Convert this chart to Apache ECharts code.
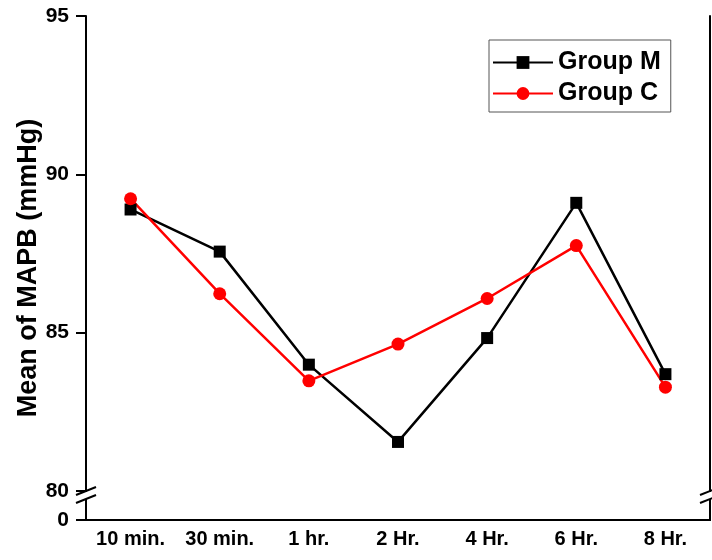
<!DOCTYPE html>
<html>
<head>
<meta charset="utf-8">
<script src="https://cdn.jsdelivr.net/npm/echarts@6/dist/echarts.min.js"></script>
<style>
  html, body { margin: 0; padding: 0; background: #fff; }
  #chart { width: 712px; height: 560px; }
</style>
</head>
<body>
<div id="chart"></div>
<script>
// Time points after induction
const categories = ['10 min.', '30 min.', '1 hr.', '2 Hr.', '4 Hr.', '6 Hr.', '8 Hr.'];
// Mean arterial pressure (mmHg) per group
const groupM = [88.89, 87.56, 83.99, 81.55, 84.83, 89.10, 83.69];
const groupC = [89.23, 86.23, 83.48, 84.64, 86.08, 87.75, 83.28];
// Visible y tick values (axis broken between 0 and 80)
const yTicks = [0, 80, 85, 90, 95];

const FONT = '"Liberation Sans", Arial, sans-serif';

const chart = echarts.init(document.getElementById('chart'));

const axisBreak = [{ start: 0, end: 80, gap: '5.75%' }];

chart.setOption({
  animation: false,
  backgroundColor: '#fff',
  grid: { left: 86, right: 2, top: 16, bottom: 40 },
  legend: {
    orient: 'vertical',
    left: 489,
    top: 40,
    width: 180,
    padding: [10, 10, 6, 3],
    itemGap: 6,
    itemWidth: 60,
    itemHeight: 16,
    borderColor: '#555',
    borderWidth: 1,
    textStyle: { fontFamily: FONT, fontWeight: 'bold', fontSize: 25, color: '#000' },
    data: ['Group M', 'Group C']
  },
  xAxis: [{
    type: 'category',
    data: categories,
    boundaryGap: true,
    axisLine: { lineStyle: { color: '#000', width: 2 } },
    axisTick: { alignWithLabel: true, interval: 0, length: 10, lineStyle: { color: '#000', width: 2 } },
    axisLabel: { interval: 0, fontFamily: FONT, fontWeight: 'bold', fontSize: 20, color: '#000', margin: 9 },
    splitLine: { show: false }
  }, {
    type: 'category',
    position: 'top',
    data: categories,
    axisLine: { lineStyle: { color: '#000', width: 2 } },
    axisTick: { show: false },
    axisLabel: { show: false }
  }],
  yAxis: [{
    type: 'value',
    min: 0,
    max: 95,
    interval: 5,
    breaks: axisBreak,
    breakArea: { show: false },
    axisLine: { show: true, lineStyle: { color: '#000', width: 2 } },
    axisTick: { show: true, length: 10, lineStyle: { color: '#000', width: 2 } },
    axisLabel: {
      fontFamily: FONT, fontWeight: 'bold', fontSize: 21, color: '#000', margin: 17,
      formatter: v => (yTicks.indexOf(v) >= 0 ? String(v) : '')
    },
    splitLine: { show: false },
    name: 'Mean of MAPB (mmHg)',
    nameLocation: 'middle',
    nameMoveOverlap: false,
    nameGap: 44,
    nameTextStyle: { fontFamily: FONT, fontWeight: 'bold', fontSize: 27, color: '#000' }
  }, {
    type: 'value',
    position: 'right',
    min: 0,
    max: 95,
    interval: 5,
    breaks: axisBreak,
    breakArea: { show: false },
    axisLine: { show: true, lineStyle: { color: '#000', width: 2 } },
    axisTick: { show: false },
    axisLabel: { show: false },
    splitLine: { show: false }
  }],
  series: [{
    name: 'Group M',
    type: 'line',
    data: groupM,
    symbol: 'rect',
    symbolSize: 12,
    itemStyle: { color: '#000' },
    lineStyle: { color: '#000', width: 2.5 }
  }, {
    name: 'Group C',
    type: 'line',
    data: groupC,
    symbol: 'circle',
    symbolSize: 13,
    itemStyle: { color: '#ff0000' },
    lineStyle: { color: '#ff0000', width: 2.5 }
  }]
});

// Axis segments through the break gap, plus double-slash break markers
function drawBreakMarks() {
  const yTop = chart.convertToPixel({ yAxisIndex: 0 }, 80);
  const yBot = chart.convertToPixel({ yAxisIndex: 0 }, 0);
  const left = 86, right = 710;
  const els = [];
  [left, right].forEach(x => {
    els.push({
      type: 'line', shape: { x1: x, y1: yTop, x2: x, y2: yBot + 1 },
      style: { stroke: '#000', lineWidth: 2 }, z: 199
    });
    els.push({
      type: 'rect', shape: { x: x - 3, y: yTop + 1, width: 6, height: 7 },
      style: { fill: '#fff' }, z: 200
    });
    [0, 8].forEach(off => {
      els.push({
        type: 'line',
        shape: { x1: x - 10, y1: yTop + off + 4, x2: x + 10, y2: yTop + off - 4 },
        style: { stroke: '#000', lineWidth: 2 }, z: 201
      });
    });
  });
  // tick at the zero label
  els.push({
    type: 'line', shape: { x1: left - 10, y1: yBot, x2: left, y2: yBot },
    style: { stroke: '#000', lineWidth: 2 }, z: 199
  });
  chart.setOption({ graphic: els });
}
drawBreakMarks();
</script>
</body>
</html>
